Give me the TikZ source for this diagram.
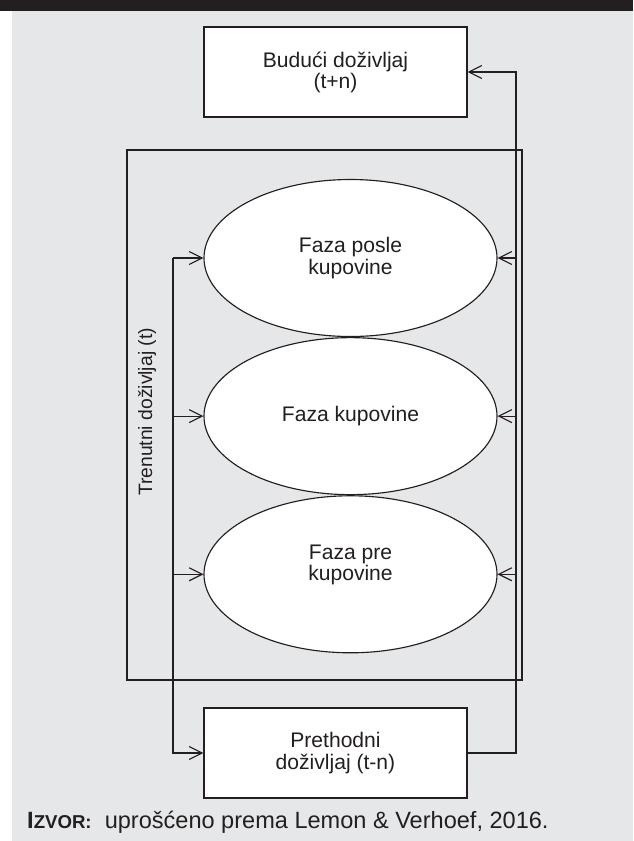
\documentclass[tikz,border=0pt]{standalone}
\usepackage{fontspec}
\setmainfont{Liberation Sans}
\usetikzlibrary{positioning,shapes.geometric,arrows.meta}
\definecolor{panel}{HTML}{E6E7E8}
\definecolor{ink}{HTML}{231F20}

\begin{document}
\begin{tikzpicture}
    [ box/.style={draw=ink,fill=white,shape=rectangle,minimum width=5.26cm,minimum height=1.8cm,align=center,line width=0.65pt}
    , phase/.style={draw=ink,fill=white,shape=ellipse,minimum width=5.86cm,minimum height=3.14cm,align=center,inner sep=0pt,line width=0.65pt}
    , frame/.style={draw=ink,shape=rectangle,minimum width=7.9cm,minimum height=10.6cm,line width=0.65pt}
    , every node/.style={font=\fontsize{12}{12}\selectfont,text=ink}
    , link/.style={draw=ink,line width=0.65pt,-{Straight Barb[length=2.6mm,width=2.6mm]}}
    ]

    % page, dark band and grey panel
    \useasboundingbox (0,0) rectangle (12.66,-16.82);
    \fill [ink] (0,0) rectangle (12.66,-0.21);
    \fill [panel] (0.24,-0.21) rectangle (12.66,-16.82);

    \node [frame] (cur) at (6.49,-8.3) {};
    \node [rotate=90, font=\fontsize{11}{11}\selectfont] (curlabel) at (2.94,-8.24) {Trenutni doživljaj (t)};

    \node [box] (fut)  at (6.71,-1.44)  {Budući doživljaj\\(t+n)};
    \node [box] (prev) at (6.71,-15.06) {Prethodni\\doživljaj (t-n)};

    \node [phase] (post) at (7.01,-5.16) {Faza posle\\kupovine};
    \node [phase, below=0pt of post] (buy) {Faza kupovine};
    \node [phase, below=0pt of buy, text depth=0.45cm] (pre) {Faza pre\\kupovine};

    \coordinate (lx) at (3.46,0);
    \coordinate (rx) at (10.32,0);

    % left feed
    \draw [link] (post.west -| lx) -- (post.west);
    \draw [link] (buy.west -| lx) -- (buy.west);
    \draw [link] (pre.west -| lx) -- (pre.west);
    \draw [link] (post.west -| lx) |- (prev.west);

    % right feed
    \draw [link] (prev.east) -- (prev.east -| rx) |- (fut.east);
    \draw [link] (post.east -| rx) -- (post.east);
    \draw [link] (buy.east -| rx) -- (buy.east);
    \draw [link] (pre.east -| rx) -- (pre.east);

    \node [anchor=west, font=\fontsize{13.4}{14}\selectfont] (src) at (0.42,-16.44)
      {{\bfseries I{\fontsize{10.6}{11}\selectfont ZVOR:}}\ \ uprošćeno prema Lemon \& Verhoef, 2016.};

  \end{tikzpicture}
\end{document}
